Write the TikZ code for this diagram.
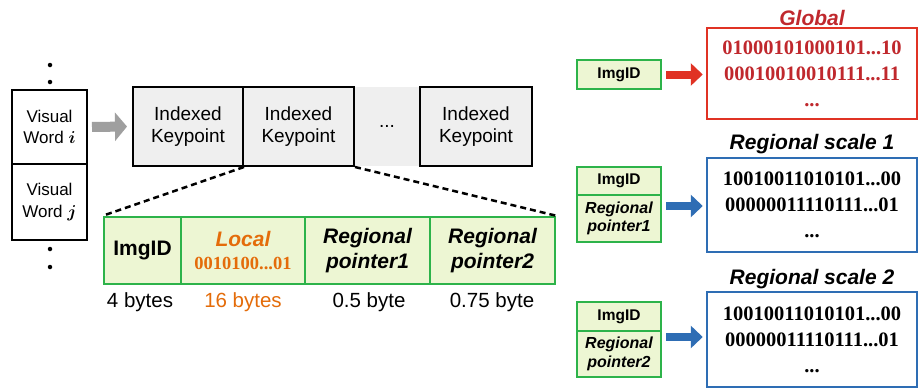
\documentclass[tikz,border=0pt]{standalone}
\usepackage{amsmath}
\usepackage{fontspec}
\setmainfont{Liberation Sans}
\newfontfamily\tnr{Liberation Serif}
\usetikzlibrary{arrows.meta}
\definecolor{gborder}{HTML}{2DB34A}
\definecolor{gfill}{HTML}{EDF6D3}
\definecolor{kfill}{HTML}{EFEFEF}
\definecolor{redc}{HTML}{E03224}
\definecolor{redt}{HTML}{C0282D}
\definecolor{bluec}{HTML}{2E6DB4}
\definecolor{orangec}{HTML}{E46C0A}
\tikzset{
  wordbox/.style={draw=black, line width=2pt, minimum width=75pt, inner sep=0pt, align=center, font=\fontsize{17}{21.5}\selectfont},
  kpbox/.style={draw=black, line width=2pt, fill=kfill, minimum height=79pt, inner sep=0pt, align=center, font=\fontsize{19}{22.5}\selectfont},
  cell/.style={draw=gborder, line width=2.5pt, fill=gfill, minimum height=67pt, inner sep=0pt, align=center, font=\fontsize{21}{25}\selectfont\bfseries},
  sbox/.style={draw=gborder, line width=2.5pt, fill=gfill, minimum width=84pt, inner sep=0pt, outer sep=0pt, align=center, font=\fontsize{15.5}{18}\selectfont\bfseries},
  bigbox/.style={line width=2.5pt, fill=white, minimum width=210pt, inner sep=0pt, align=center, font=\fontsize{20.5}{26}\selectfont\tnr\bfseries},
  ttl/.style={font=\fontsize{21}{22}\selectfont\bfseries\itshape, inner sep=0pt},
  bytes/.style={font=\fontsize{20.5}{22}\selectfont, inner sep=0pt},
  blk/.style={line width=8pt, -{Triangle[length=12pt,width=22pt]}},
  vdot/.style={circle, fill=black, inner sep=0pt, minimum size=4.5pt},
  dsh/.style={line width=2.5pt, dash pattern=on 6pt off 4pt}
}
\begin{document}
\begin{tikzpicture}[x=1pt,y=-1pt]
\useasboundingbox[fill=white] (0,0) rectangle (919,388);
% visual words
\node[vdot] (d1) at (50,65) {};
\node[vdot] (d2) at (50,82) {};
\node[wordbox, minimum height=74pt] (vwi) at (49.5,127) {Visual\\Word $\boldsymbol{i}$};
\node[wordbox, minimum height=76pt] (vwj) at (49.5,202) {Visual\\Word $\boldsymbol{j}$};
\node[vdot] (d3) at (50,249) {};
\node[vdot] (d4) at (50,267) {};
% keypoints
\node[fill=kfill, minimum width=66pt, minimum height=79pt, inner sep=0pt, font=\fontsize{19}{22}\selectfont] (gap) at (387,126.5) {...};
\node[kpbox, minimum width=110pt] (kp1) at (188,126.5) {Indexed\\Keypoint};
\node[kpbox, minimum width=111pt] (kp2) at (298.5,126.5) {Indexed\\Keypoint};
\node[kpbox, minimum width=112pt] (kp4) at (476,126.5) {Indexed\\Keypoint};
\draw[draw=gray!75, -{Triangle[length=12pt,width=28pt]}, line width=10pt, shorten <=4pt, shorten >=5pt] (vwi.east) -- (kp1.west);
% record
\node[cell, minimum width=77pt] (c1) at (142.5,250.5) {ImgID};
\node[cell, minimum width=124pt] (c2) at (243,250.5) {\textcolor{orangec}{\itshape Local}\\[-2pt]\textcolor{orangec}{\tnr\fontsize{18.5}{20}\selectfont\bfseries 0010100...01}};
\node[cell, minimum width=125pt, font=\fontsize{21}{25}\selectfont\bfseries\itshape] (c3) at (367.5,250.5) {Regional\\pointer1};
\node[cell, minimum width=125pt, font=\fontsize{21}{25}\selectfont\bfseries\itshape] (c4) at (492.5,250.5) {Regional\\pointer2};
\draw[dsh] (kp1.south east) -- (c1.north west);
\draw[dsh] (kp2.south east) -- (c4.north east);
\node[bytes] (b1) at (140,302) {4 bytes};
\node[bytes, text=orangec] (b2) at (243,302) {16 bytes};
\node[bytes] (b3) at (369,302) {0.5 byte};
\node[bytes] (b4) at (492,302) {0.75 byte};
% global
\node[sbox, minimum height=29pt] (g1) at (619,74.5) {ImgID};
\node[bigbox, draw=redc, text=redt, minimum height=91pt] (gb) at (812,73.5) {01000101000101...10\\00010010010111...11\\...};
\node[ttl, text=redt] (gt) at (812,18) {Global};
\draw[blk, draw=redc, shorten <=5pt, shorten >=3pt] (g1.east) -- (gb.west |- g1.east);
% regional 1
\node[sbox, minimum height=28pt] (r1a) at (619,181) {ImgID};
\node[sbox, minimum height=47pt, font=\fontsize{16}{18.5}\selectfont\bfseries\itshape, anchor=north] (r1b) at (r1a.south) {Regional\\pointer1};
\node[bigbox, draw=bluec, minimum height=94pt] (rb1) at (812,205) {10010011010101...00\\00000011110111...01\\...};
\node[ttl] (rt1) at (812,144) {Regional scale 1};
\coordinate (r1e) at (661,206);
\draw[blk, draw=bluec, shorten <=5pt, shorten >=3pt] (r1e) -- (rb1.west |- r1e);
% regional 2
\node[sbox, minimum height=29pt] (r2a) at (619,316.5) {ImgID};
\node[sbox, minimum height=46pt, font=\fontsize{16}{18.5}\selectfont\bfseries\itshape, anchor=north] (r2b) at (r2a.south) {Regional\\pointer2};
\node[bigbox, draw=bluec, minimum height=95pt] (rb2) at (812,339.5) {10010011010101...00\\00000011110111...01\\...};
\node[ttl] (rt2) at (812,279) {Regional scale 2};
\coordinate (r2e) at (661,337);
\draw[blk, draw=bluec, shorten <=5pt, shorten >=3pt] (r2e) -- (rb2.west |- r2e);
\end{tikzpicture}
\end{document}
